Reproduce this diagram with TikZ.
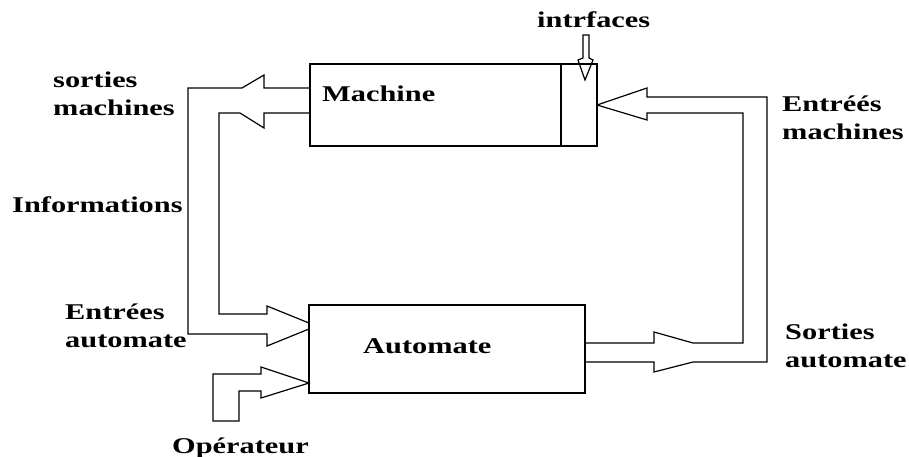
\documentclass[tikz,border=0pt]{standalone}
\usepackage{fontspec}
\usepackage{graphicx}
\setmainfont{Liberation Serif}
\newcommand{\hs}[1]{\scalebox{1.35}[1]{#1}}
\newcommand{\twol}[2]{\hs{\begin{tabular}[t]{@{}l@{}}#1\\#2\end{tabular}}}
\tikzset{
  lbl/.style={inner sep=0pt, anchor=base west, font=\fontsize{22.5}{28}\selectfont\bfseries},
  boxnode/.style={draw, line width=1.2pt, outer sep=0pt, inner sep=0pt, anchor=north west},
  hollow/.style={draw, line width=1.2pt, line join=miter}
}
\begin{document}
\begin{tikzpicture}[x=1pt,y=-1pt]
\useasboundingbox (0,0) rectangle (909,457);
\fill[white] (0,0) rectangle (909,457);

% boxes
\node[boxnode, minimum width=287pt, minimum height=82pt] (machine) at (310,64) {};
\node[boxnode, minimum width=276pt, minimum height=88pt] (automate) at (309,305) {};
\draw[line width=1.2pt] ([xshift=251pt]machine.north west) -- ([xshift=251pt]machine.south west);

% labels
\node[lbl] (machinelbl) at (322,102) {\hs{Machine}};
\node[lbl] (automatelbl) at (363,353) {\hs{Automate}};
\node[lbl] (intr) at (537,28) {\hs{intrfaces}};
\node[lbl] (sortm) at (53,88) {\twol{sorties}{machines}};
\node[lbl] (info) at (12,212) {\hs{Informations}};
\node[lbl] (entra) at (65,319) {\twol{Entrées}{automate}};
\node[lbl] (entrm) at (782,112) {\twol{Entréés}{machines}};
\node[lbl] (sorta) at (785,339) {\twol{Sorties}{automate}};
\node[lbl] (oper) at (172,453) {\hs{Opérateur}};

% machine outputs -> automate inputs (left hollow loop)
\draw[hollow] ([yshift=-24pt]machine.north west) -- (264,88) -- (264,75) -- (242,88)
  -- (188,88) -- (188,334) -- (267,334) -- (267,346) -- ([yshift=-24pt]automate.north west);
\draw[hollow] ([yshift=-49pt]machine.north west) -- (264,113) -- (264,128) -- (240,113)
  -- (219,113) -- (219,314) -- (267,314) -- (267,306) -- ([yshift=-18pt]automate.north west);

% automate outputs -> machine inputs (right hollow loop)
\draw[hollow] ([yshift=-38pt]automate.north east) -- (654,343) -- (654,332) -- (693,343)
  -- (743,343) -- (743,113) -- (647,113) -- (647,120) -- ([yshift=-41pt]machine.north east);
\draw[hollow] ([yshift=-57pt]automate.north east) -- (654,362) -- (654,372) -- (693,362)
  -- (767,362) -- (767,97) -- (647,97) -- (647,88) -- ([yshift=-41pt]machine.north east);

% operator arrow
\coordinate (opfoot) at (213,421);
\draw[hollow] (opfoot) -- (213,374) -- (261,374) -- (261,367) -- ([yshift=-78pt]automate.north west)
  -- (261,398) -- (261,391) -- (239,391) -- (239,421) -- cycle;

% interfaces arrow
\coordinate (itop) at (583,35);
\draw[hollow] (itop) -- (589,35) -- (589,58) -- (593,60) -- ([xshift=275pt,yshift=-16pt]machine.north west)
  -- (578,60) -- (583,58) -- cycle;
\end{tikzpicture}
\end{document}
